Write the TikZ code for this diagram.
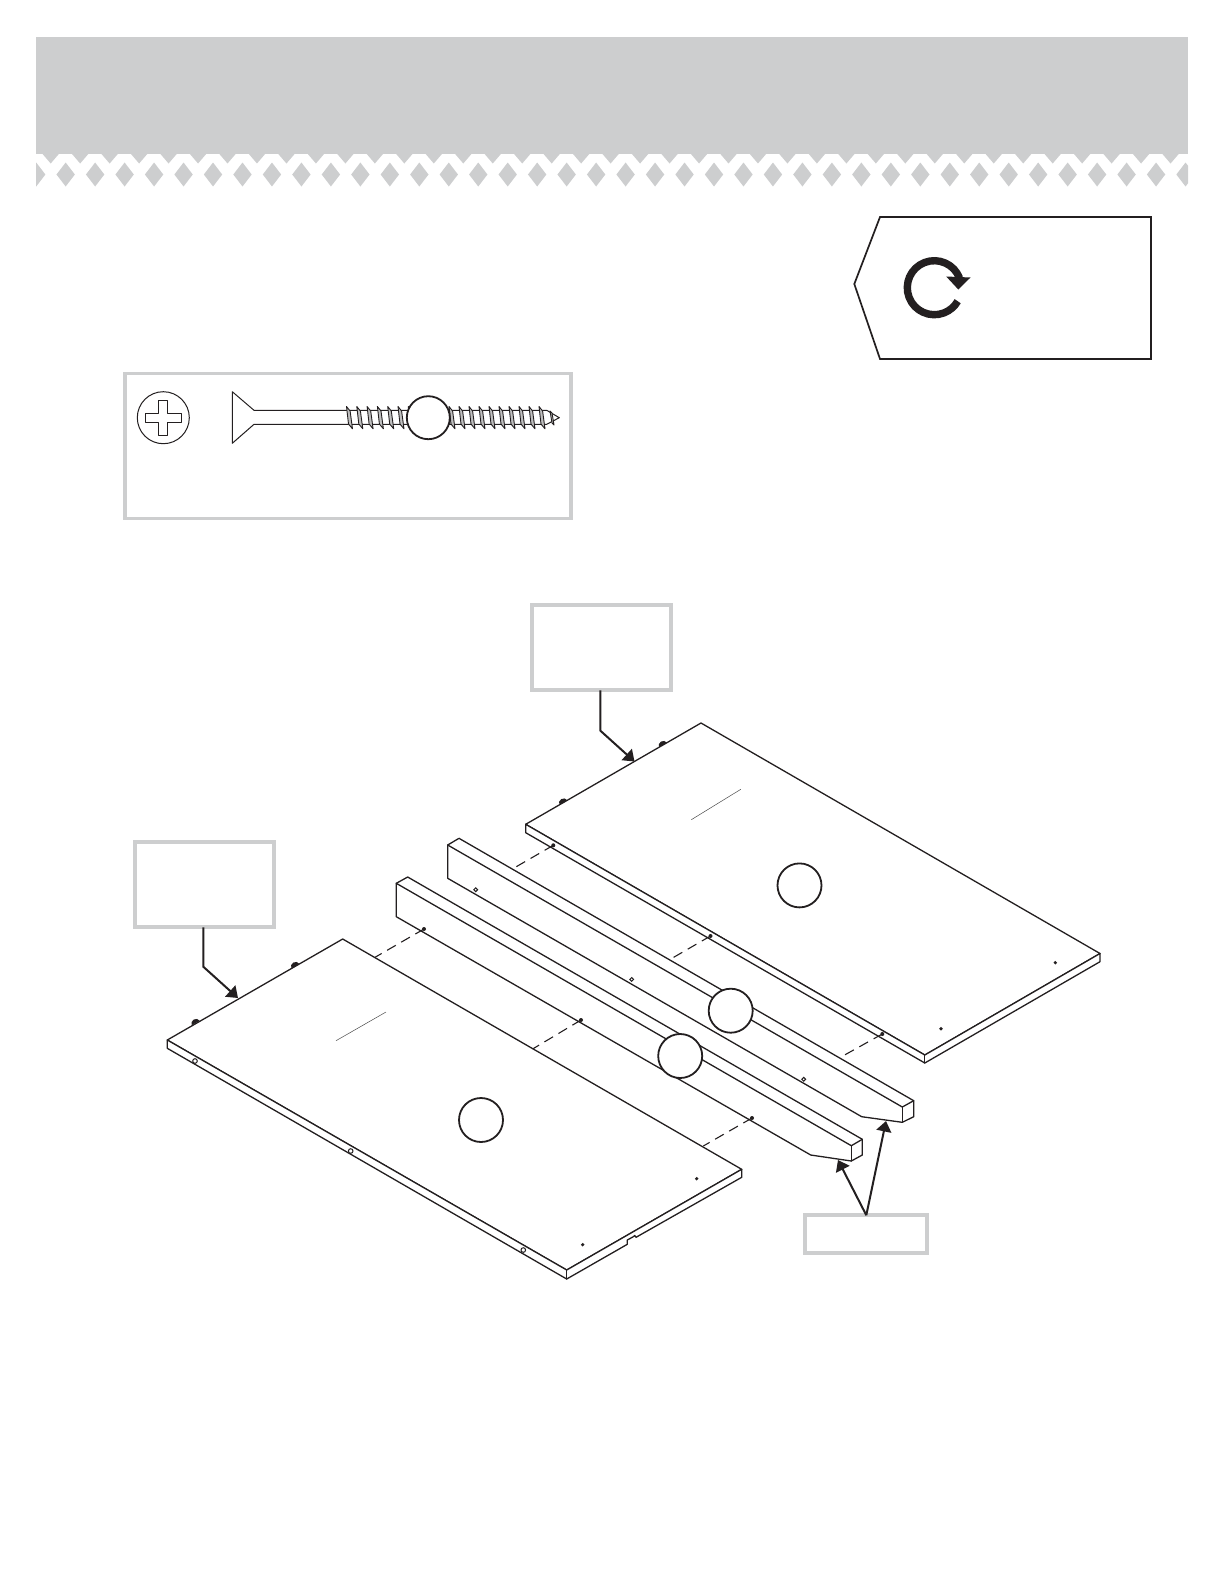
\documentclass[tikz,border=0pt]{standalone}
\usetikzlibrary{arrows.meta,calc}
\definecolor{bandgrey}{HTML}{CDCECF}
\definecolor{inkblack}{HTML}{231F20}
\tikzset{
  ln/.style={line width=1.3pt,draw=inkblack,line join=round,line cap=round},
  sheet/.style={ln,fill=white},
  dashln/.style={line width=1.1pt,draw=inkblack,dash pattern=on 10pt off 6.3pt},
  numcirc/.style={circle,draw=inkblack,fill=white,line width=1.8pt,minimum size=44pt,inner sep=0pt,outer sep=0pt},
  greybox/.style={rectangle,draw=bandgrey,fill=white,line width=3.8pt,inner sep=0pt,outer sep=0pt},
  callout/.style={line width=2pt,draw=inkblack,line join=miter,-{Triangle[length=10.5pt,width=15pt,fill=inkblack]}},
  holedot/.style={fill=inkblack},
  sidehole/.style={line width=1pt,draw=inkblack,fill=white},
  thread/.style={line width=.9pt,draw=inkblack,fill=black!25,line join=round},
}
\newcommand{\bump}[2]{\fill[inkblack,shift={(#1,#2)},rotate=30] (-4.5pt,0pt) arc[start angle=180,end angle=0,x radius=4.5pt,y radius=4pt] -- cycle;}
\begin{document}
\begin{tikzpicture}[x=1pt,y=-1pt]
\useasboundingbox (0,0) rectangle (1225,1585);
% ---- header band
\fill[bandgrey] (36,36.5) rectangle (1188,153.5);
\begin{scope}
\clip (36,150) rectangle (1188,190);
\foreach \k in {0,...,39}{
  \pgfmathsetmacro{\cx}{36.2+29.47*\k}
  \pgfmathsetmacro{\tx}{50.7+29.47*\k}
  \fill[bandgrey] (\cx-9.2,174.5) -- (\cx,162.5) -- (\cx+9.2,174.5) -- (\cx,186.5) -- cycle;
  \fill[bandgrey] (\tx-9,153) -- (\tx+9,153) -- (\tx,163.5) -- cycle;
}
\end{scope}
% ---- tag
\draw[line width=1.7pt,draw=inkblack,fill=white,line join=miter] (880,217) -- (1151,217) -- (1151,359) -- (880,359) -- (854.3,284) -- cycle;
\draw[line width=7.4pt,draw=inkblack] (934.3,287.7) ++(21:27pt) arc[start angle=21,end angle=330,radius=27pt];
\fill[inkblack] (946.2,276.5) -- (970.5,277.5) -- (958.3,289.5) -- cycle;
% ---- screw box
\node[greybox,minimum width=446pt,minimum height=145pt] (screwbox) at (348,446) {};
\draw[ln,line width=1pt] (163.3,417.7) circle[radius=26];
\draw[ln,line width=1pt] (158.8,400) -- (167.8,400) -- (167.8,413.2) -- (181,413.2) -- (181,422.2) -- (167.8,422.2) -- (167.8,435.4) -- (158.8,435.4) -- (158.8,422.2) -- (145.5,422.2) -- (145.5,413.2) -- (158.8,413.2) -- cycle;
\draw[ln,line width=1pt] (546.7,410.3) -- (254,410.3) -- (232.3,391.7) -- (232.3,443.3) -- (254,424.3) -- (546.7,424.3) -- (559.3,417.7) -- cycle;
\foreach \x in {346.5,356.8,367.1,377.4,387.7,398,408.3,449,459,469,479,489,499,509,519,529,539}{
  \draw[thread] (\x,406.5) -- (\x+3.6,411) -- (\x+6,428.8) -- (\x+2,424) -- cycle;
}
\draw[thread] (550,411) -- (552,413) -- (554,425) -- (552,423) -- cycle;
\node[numcirc,minimum size=43pt] (screwnum) at (428.3,417.7) {};
% ---- dashed connector ends
\coordinate (ra1) at (512.3,869);  \coordinate (hb1) at (553.3,845.3);
\coordinate (ra2) at (669,960);    \coordinate (hb2) at (710.5,936);
\coordinate (ra3) at (841,1057);   \coordinate (hb3) at (882.3,1034);
\coordinate (la1) at (375,957.3);  \coordinate (hl1) at (424,929);
\coordinate (la2) at (532.6,1049); \coordinate (hl2) at (581,1020);
\coordinate (la3) at (703.3,1146); \coordinate (hl3) at (752,1118);
% ---- right board
\draw[sheet] (525.7,824.3) -- (701,723) -- (1100,953.5) -- (924.8,1055) -- cycle;
\draw[sheet] (525.7,824.3) -- (924.8,1055) -- (1100,953.5) -- (1100,961.7) -- (924.8,1063) -- (525.7,832.7) -- cycle;
\draw[ln] (924.8,1055) -- (924.8,1063);
\bump{563.3}{802.5}
\bump{663}{745}
\draw[line width=.5pt,draw=black!70] (691.3,819.7) -- (740.8,789.3);
\fill[holedot] (941,1028.7) circle[radius=1.8];
\fill[holedot] (1055.3,962.7) circle[radius=1.8];
% ---- rail 1
\draw[sheet] (447.7,845) -- (459,838.3) -- (913.7,1100.7) -- (913.7,1116.7) -- (902.3,1122.3) -- (861.7,1116.7) -- (447.7,878.3) -- cycle;
\draw[ln] (447.7,845) -- (902.3,1107) -- (913.7,1100.7);
\draw[ln] (902.3,1107) -- (902.3,1122.3);
% ---- rail 2
\draw[sheet] (396.3,883.3) -- (407.7,877) -- (862.3,1139.3) -- (862.3,1155) -- (851.3,1161) -- (810.7,1155) -- (396.3,916.7) -- cycle;
\draw[ln] (396.3,883.3) -- (851.3,1145.7) -- (862.3,1139.3);
\draw[ln] (851.3,1145.7) -- (851.3,1161);
\draw[sidehole] (475.7,889.7) circle[radius=1.9];
\draw[sidehole] (631.7,979.4) circle[radius=1.9];
\draw[sidehole] (803.7,1079.3) circle[radius=1.9];
% ---- left board
\draw[sheet] (167.3,1040) -- (342.7,939) -- (741.7,1169.3) -- (566.7,1270) -- cycle;
\draw[sheet] (167.3,1040) -- (566.7,1270) -- (741.7,1169.3) -- (741.7,1177.3) -- (636,1237.3) -- (634.8,1235.5) -- (633.3,1236.7) -- (627.3,1240) -- (627.3,1244.3) -- (566.7,1279) -- (167.3,1048.3) -- cycle;
\draw[ln] (566.7,1270) -- (566.7,1279);
\bump{195.7}{1023}
\bump{295.3}{966}
\draw[line width=.5pt,draw=black!70] (336,1040.7) -- (386,1012);
\fill[holedot] (582.7,1244.7) circle[radius=1.8];
\fill[holedot] (696.7,1178.7) circle[radius=1.8];
\draw[sidehole] (195,1061) circle[radius=2.3];
\draw[sidehole] (350.7,1151) circle[radius=2.3];
\draw[sidehole] (523.3,1250) circle[radius=2.3];
% ---- dashes
\foreach \a/\b in {hb1/ra1,hb2/ra2,hb3/ra3,hl1/la1,hl2/la2,hl3/la3}{
  \draw[dashln] (\a) -- (\b);
  \fill[inkblack] (\a) circle[radius=2];
}
% ---- number circles
\node[numcirc] (numb2) at (799.5,885.4) {};
\node[numcirc] (numb1) at (481,1120) {};
\node[numcirc] (numr1) at (730.7,1010.7) {};
\node[numcirc] (numr2) at (680.2,1056) {};
% ---- callout boxes
\node[greybox,minimum width=139pt,minimum height=85pt] (boxtop) at (601.3,647.8) {};
\node[greybox,minimum width=139pt,minimum height=85pt] (boxleft) at (204.7,884.8) {};
\node[greybox,minimum width=122pt,minimum height=38pt] (boxend) at (866.3,1234.2) {};
% ---- callout arrows
\coordinate (tiptop) at (634.5,761.5);
\coordinate (tipleft) at (238,998);
\coordinate (tipr1) at (886,1121);
\coordinate (tipr2) at (838,1160);
\draw[callout] ([xshift=-.9pt]boxtop.south) -- (600.4,730.7) -- (tiptop);
\draw[callout] ([xshift=-1.4pt]boxleft.south) -- (203.3,966.7) -- (tipleft);
\draw[callout] (boxend.north) -- (tipr1);
\draw[callout] (boxend.north) -- (tipr2);
\end{tikzpicture}
\end{document}
